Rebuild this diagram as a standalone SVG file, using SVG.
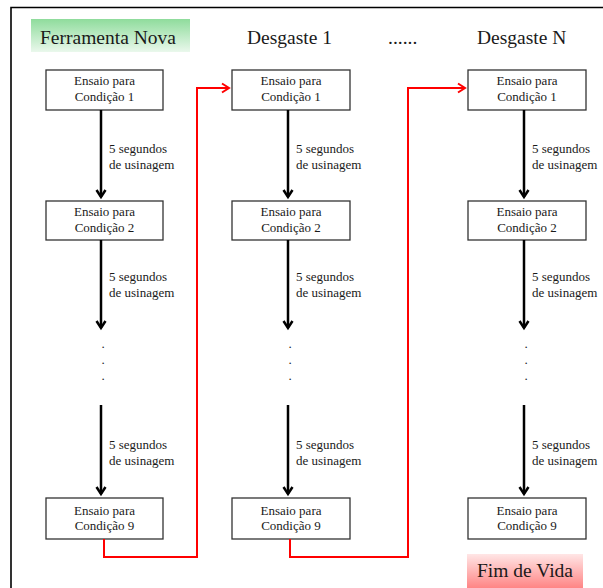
<svg xmlns="http://www.w3.org/2000/svg" width="603" height="588" viewBox="0 0 603 588">
<defs>
<linearGradient id="gGreen" x1="0" y1="0" x2="0" y2="1">
<stop offset="0" stop-color="#8fdc9c"/>
<stop offset="1" stop-color="#eaf8ec"/>
</linearGradient>
<linearGradient id="gRed" x1="0" y1="0" x2="0" y2="1">
<stop offset="0" stop-color="#ffe6e6"/>
<stop offset="1" stop-color="#ff8585"/>
</linearGradient>
<marker id="ab" viewBox="0 0 12 12" refX="6" refY="10" markerWidth="12" markerHeight="12" markerUnits="userSpaceOnUse" orient="auto-start-reverse">
</marker>
</defs>
<style>
text{font-family:"Liberation Serif","Times New Roman",serif;fill:#1a1a1a}
.box{fill:#fff;stroke:#333;stroke-width:1.3}
.bt{font-size:13px;text-anchor:middle}
.lab{font-size:13px}
.hd{font-size:19.5px}
.arr{stroke:#000;stroke-width:2.5;fill:none}
.head{stroke:#000;stroke-width:2.5;fill:none;stroke-linejoin:miter}
.red{stroke:#ff0000;stroke-width:2;fill:none}
.dot{font-size:13px;text-anchor:middle}
</style>
<rect width="603" height="588" fill="#fff"/>
<path d="M11,588 V7.5 H603" fill="none" stroke="#000" stroke-width="1.6"/>

<g id="hdr-nova">
<rect x="31" y="19" width="159" height="33" fill="url(#gGreen)"/>
<text class="hd" x="40" y="44">Ferramenta Nova</text>
</g>
<g id="hdr-d1"><text class="hd" x="247" y="44">Desgaste 1</text></g>
<g id="hdr-dots"><text class="hd" x="388" y="44">......</text></g>
<g id="hdr-dn"><text class="hd" x="477" y="44">Desgaste N</text></g>
<g id="fim">
<rect x="467" y="554" width="116" height="34" fill="url(#gRed)"/>
<text class="hd" x="525" y="577" text-anchor="middle">Fim de Vida</text>
</g>

<g id="c1b1"><rect class="box" x="46" y="70" width="117" height="40"/><text class="bt" x="104.5" y="85">Ensaio para</text><text class="bt" x="104.5" y="101">Condição 1</text></g>
<g id="c1b2"><rect class="box" x="46" y="201" width="117" height="39"/><text class="bt" x="104.5" y="216">Ensaio para</text><text class="bt" x="104.5" y="232">Condição 2</text></g>
<g id="c1b9"><rect class="box" x="46" y="498" width="117" height="41"/><text class="bt" x="104.5" y="515">Ensaio para</text><text class="bt" x="104.5" y="530">Condição 9</text></g>

<g id="c2b1"><rect class="box" x="232" y="70" width="118" height="40"/><text class="bt" x="291" y="85">Ensaio para</text><text class="bt" x="291" y="101">Condição 1</text></g>
<g id="c2b2"><rect class="box" x="232" y="201" width="118" height="39"/><text class="bt" x="291" y="216">Ensaio para</text><text class="bt" x="291" y="232">Condição 2</text></g>
<g id="c2b9"><rect class="box" x="232" y="498" width="118" height="41"/><text class="bt" x="291" y="515">Ensaio para</text><text class="bt" x="291" y="530">Condição 9</text></g>

<g id="c3b1"><rect class="box" x="468" y="70" width="118" height="40"/><text class="bt" x="527" y="85">Ensaio para</text><text class="bt" x="527" y="101">Condição 1</text></g>
<g id="c3b2"><rect class="box" x="468" y="201" width="118" height="39"/><text class="bt" x="527" y="216">Ensaio para</text><text class="bt" x="527" y="232">Condição 2</text></g>
<g id="c3b9"><rect class="box" x="468" y="498" width="118" height="41"/><text class="bt" x="527" y="515">Ensaio para</text><text class="bt" x="527" y="530">Condição 9</text></g>

<g id="connectors">
<!-- column 1 -->
<path class="arr" d="M101,110 V197"/><path class="head" d="M96.5,190 L101,197 L105.5,190"/>
<path class="arr" d="M101,240 V328"/><path class="head" d="M96.5,321 L101,328 L105.5,321"/>
<path class="arr" d="M101,405 V494"/><path class="head" d="M96.5,487 L101,494 L105.5,487"/>
<!-- column 2 -->
<path class="arr" d="M288,110 V197"/><path class="head" d="M283.5,190 L288,197 L292.5,190"/>
<path class="arr" d="M288,240 V328"/><path class="head" d="M283.5,321 L288,328 L292.5,321"/>
<path class="arr" d="M288,405 V494"/><path class="head" d="M283.5,487 L288,494 L292.5,487"/>
<!-- column 3 -->
<path class="arr" d="M524,110 V197"/><path class="head" d="M519.5,190 L524,197 L528.5,190"/>
<path class="arr" d="M524,240 V328"/><path class="head" d="M519.5,321 L524,328 L528.5,321"/>
<path class="arr" d="M524,405 V494"/><path class="head" d="M519.5,487 L524,494 L528.5,487"/>
<!-- red -->
<path class="red" d="M104,539 V557 H197 V88 H228"/><path class="red" d="M222,83.5 L229,88 L222,92.5"/>
<path class="red" d="M290,539 V557 H408 V88 H464"/><path class="red" d="M458,83.5 L465,88 L458,92.5"/>
</g>

<g id="labels">
<text class="lab" x="109" y="153">5 segundos</text><text class="lab" x="109" y="169">de usinagem</text>
<text class="lab" x="109" y="281">5 segundos</text><text class="lab" x="109" y="297">de usinagem</text>
<text class="lab" x="109" y="449">5 segundos</text><text class="lab" x="109" y="465">de usinagem</text>
<text class="lab" x="296" y="153">5 segundos</text><text class="lab" x="296" y="169">de usinagem</text>
<text class="lab" x="296" y="281">5 segundos</text><text class="lab" x="296" y="297">de usinagem</text>
<text class="lab" x="296" y="449">5 segundos</text><text class="lab" x="296" y="465">de usinagem</text>
<text class="lab" x="532" y="153">5 segundos</text><text class="lab" x="532" y="169">de usinagem</text>
<text class="lab" x="532" y="281">5 segundos</text><text class="lab" x="532" y="297">de usinagem</text>
<text class="lab" x="532" y="449">5 segundos</text><text class="lab" x="532" y="465">de usinagem</text>
<text class="dot" x="103" y="348">.</text><text class="dot" x="103" y="364">.</text><text class="dot" x="103" y="380">.</text>
<text class="dot" x="290" y="348">.</text><text class="dot" x="290" y="364">.</text><text class="dot" x="290" y="380">.</text>
<text class="dot" x="526" y="348">.</text><text class="dot" x="526" y="364">.</text><text class="dot" x="526" y="380">.</text>
</g>
</svg>
